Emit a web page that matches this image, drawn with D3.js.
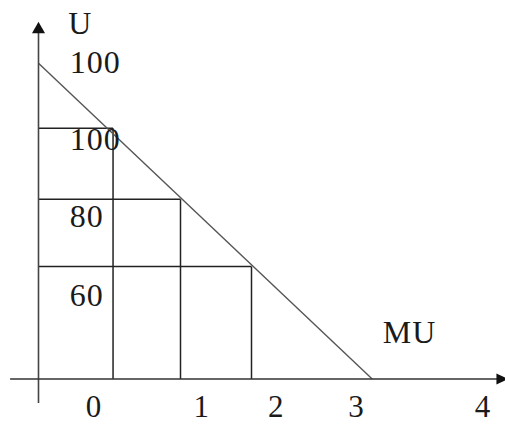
<!DOCTYPE html>
<html>
<head>
<meta charset="utf-8">
<script src="https://cdn.jsdelivr.net/npm/d3@7"></script>
<style>
  body { margin: 0; background: #fff; }
  text { font-family: "Liberation Serif", "Times New Roman", serif; font-size: 32px; fill: #1a1a1a; letter-spacing: 1px; }
  text.xlab { font-size: 31px; }
</style>
</head>
<body>
<div id="chart"></div>
<script>
// quantity of the good (MU axis) and utility (U axis)
var stepQ = [1.05, 2.0, 3.0];          // where each vertical line stands
var stepU = [79.4, 56.9, 35.6];        // height of each horizontal line
var lineQ = [0, 4.7];                  // diagonal: ends on the axes
var lineU = [100, 0];

// labels as printed in the picture
var yLabels = ["100", "100", "80", "60"];
var yLabelU = [96.8, 72.5, 48.2, 23.2];
var xLabels = ["0", "1", "2", "3", "4"];
var xLabelQ = [0.78, 2.30, 3.35, 4.48, 6.26];

var width = 505, height = 424;

// scales
var x = d3.scaleLinear().domain([0, 1]).range([38.5, 109.5]);
var y = d3.scaleLinear().domain([0, 100]).range([379, 63.3]);

var svg = d3.select("#chart").append("svg")
    .attr("width", width)
    .attr("height", height);

// rectangles under the line
svg.selectAll(".hline")
    .data(stepQ)
  .enter().append("line")
    .attr("class", "hline")
    .attr("x1", x(0))
    .attr("x2", function(d) { return x(d); })
    .attr("y1", function(d, i) { return y(stepU[i]); })
    .attr("y2", function(d, i) { return y(stepU[i]); })
    .attr("stroke", "#222")
    .attr("stroke-width", 1.5);

svg.selectAll(".vline")
    .data(stepQ)
  .enter().append("line")
    .attr("class", "vline")
    .attr("x1", function(d) { return x(d); })
    .attr("x2", function(d) { return x(d); })
    .attr("y1", function(d, i) { return y(stepU[i]); })
    .attr("y2", y(0))
    .attr("stroke", "#222")
    .attr("stroke-width", 1.5);

// the diagonal
svg.append("line")
    .attr("x1", x(lineQ[0]))
    .attr("y1", y(lineU[0]))
    .attr("x2", x(lineQ[1]))
    .attr("y2", y(lineU[1]))
    .attr("stroke", "#555")
    .attr("stroke-width", 1.4);

// axes with arrow heads
svg.append("line")
    .attr("x1", x(0)).attr("x2", x(0))
    .attr("y1", y(-7.6)).attr("y2", y(110))
    .attr("stroke", "#444")
    .attr("stroke-width", 1.6);
svg.append("path")
    .attr("d", "M" + x(0) + "," + y(113.2) +
               "L" + (x(0) - 6.5) + "," + y(109.5) +
               "L" + (x(0) + 6.5) + "," + y(109.5) + "Z")
    .attr("fill", "#111");

svg.append("line")
    .attr("x1", x(-0.40)).attr("x2", x(6.5))
    .attr("y1", y(0)).attr("y2", y(0))
    .attr("stroke", "#333")
    .attr("stroke-width", 1.6);
svg.append("path")
    .attr("d", "M" + x(6.62) + "," + y(0) +
               "L" + x(6.45) + "," + (y(0) - 5.5) +
               "L" + x(6.45) + "," + (y(0) + 5.5) + "Z")
    .attr("fill", "#111");

// labels
svg.append("text").attr("x", x(0.42)).attr("y", y(109.2)).text("U");
svg.append("text").attr("x", x(4.85)).attr("y", y(11.3)).text("MU");

svg.selectAll(".ylab")
    .data(yLabels)
  .enter().append("text")
    .attr("class", "ylab")
    .attr("x", x(0.44))
    .attr("y", function(d, i) { return y(yLabelU[i]); })
    .text(function(d) { return d; });

svg.selectAll(".xlab")
    .data(xLabels)
  .enter().append("text")
    .attr("class", "xlab")
    .attr("text-anchor", "middle")
    .attr("x", function(d, i) { return x(xLabelQ[i]); })
    .attr("y", y(-12.0))
    .text(function(d) { return d; });
</script>
</body>
</html>
